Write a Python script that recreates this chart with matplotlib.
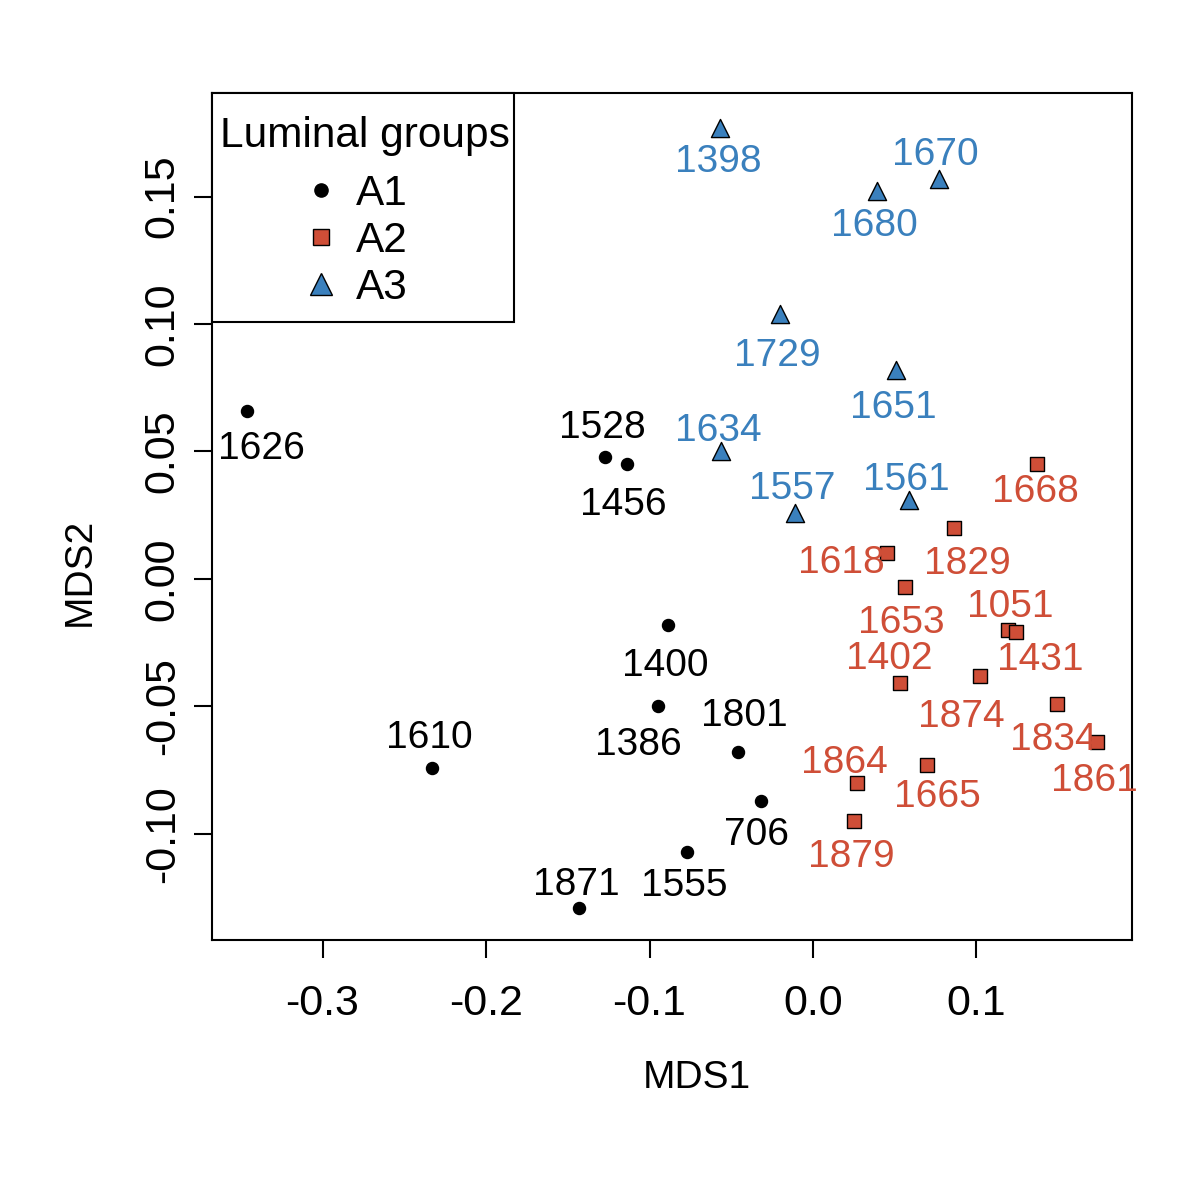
import numpy as np
import matplotlib.pyplot as plt
from matplotlib.lines import Line2D
from matplotlib.patches import Rectangle

plt.rcParams['font.family'] = ['Liberation Sans', 'DejaVu Sans']
plt.rcParams['axes.unicode_minus'] = False

# group A1 (black circles)
a1_ids = ["1626", "1528", "1456", "1400", "1386", "1801", "1610", "706", "1555", "1871"]
a1_x = [-0.346, -0.127, -0.114, -0.089, -0.095, -0.046, -0.233, -0.032, -0.077, -0.143]
a1_y = [0.066, 0.048, 0.045, -0.018, -0.050, -0.068, -0.074, -0.087, -0.107, -0.129]

# group A2 (red squares)
a2_ids = ["1668", "1829", "1618", "1653", "1051", "1431", "1402", "1874",
          "1834", "1861", "1665", "1864", "1879"]
a2_x = [0.137, 0.086, 0.045, 0.056, 0.119, 0.124, 0.053, 0.102, 0.149, 0.174, 0.070, 0.027, 0.025]
a2_y = [0.045, 0.020, 0.010, -0.003, -0.020, -0.021, -0.041, -0.038, -0.049, -0.064, -0.073, -0.080, -0.095]

# group A3 (blue triangles)
a3_ids = ["1398", "1670", "1680", "1729", "1651", "1634", "1557", "1561"]
a3_x = [-0.057, 0.077, 0.039, -0.020, 0.051, -0.056, -0.011, 0.059]
a3_y = [0.177, 0.157, 0.152, 0.104, 0.082, 0.050, 0.026, 0.031]

# label offsets in pixels (dx right, dy down)
a1_off = [(14, 38), (-3, -29), (-3, 41), (-2, 41), (-19, 39), (7, -36), (-3, -30), (-4, 34), (-3, 34), (-3, -23)]
a2_off = [(-2, 28), (14, 36), (-45, 10), (-3, 36), (3, -23), (25, 28), (-10, -24), (-18, 41),
          (-3, 36), (-3, 39), (10, 32), (-13, -20), (-3, 36)]
a3_off = [(-2, 34), (-4, -24), (-2, 35), (-3, 42), (-3, 38), (-3, -20), (-3, -24), (-3, -20)]

red = '#CF4E37'
blue = '#3A80BD'

fig = plt.figure(figsize=(12, 12), dpi=100)
ax = fig.add_axes([0.1767, 0.2167, 0.7666, 0.7058])

ax.scatter(a1_x, a1_y, s=75, marker='o', color='black', zorder=3)
ax.scatter(a2_x, a2_y, s=95, marker='s', color=red, edgecolor='black', linewidth=1.0, zorder=3)
ax.scatter(a3_x, a3_y, s=170, marker='^', color=blue, edgecolor='black', linewidth=1.0, zorder=3)

fs = 28
for ids, xs, ys, offs, c in [(a1_ids, a1_x, a1_y, a1_off, 'black'),
                             (a2_ids, a2_x, a2_y, a2_off, red),
                             (a3_ids, a3_x, a3_y, a3_off, blue)]:
    for t, x, y, (dx, dy) in zip(ids, xs, ys, offs):
        ax.annotate(t, (x, y), xytext=(dx, -dy), textcoords='offset pixels',
                    ha='center', va='center', fontsize=fs, color=c)

ax.set_xlim(-0.3676, 0.1951)
ax.set_ylim(-0.1416, 0.1906)
ax.set_xticks([-0.3, -0.2, -0.1, 0.0, 0.1])
ax.set_yticks([-0.10, -0.05, 0.00, 0.05, 0.10, 0.15])
ax.set_yticklabels(['-0.10', '-0.05', '0.00', '0.05', '0.10', '0.15'], rotation=90, va='center')
ax.tick_params(length=13, width=1.5, labelsize=31)
ax.tick_params(axis='x', pad=19)
ax.tick_params(axis='y', pad=8)
for s in ax.spines.values():
    s.set_linewidth(1.5)

ax.set_xlabel('MDS1', fontsize=fs)
ax.set_ylabel('MDS2', fontsize=fs)
ax.xaxis.set_label_coords((697 - 212) / 920, -(1078 - 940) / 847)
ax.yaxis.set_label_coords(-(212 - 80) / 920, (940 - 572) / 847)
ax.xaxis.label.set_va('center')
ax.yaxis.label.set_va('center')

# legend box drawn by hand
ax.add_patch(Rectangle((0, (940 - 322) / 847), (514 - 212) / 920, (322 - 93) / 847,
                       transform=ax.transAxes, facecolor='white', edgecolor='black',
                       linewidth=1.5, zorder=4, clip_on=False))
handles = [Line2D([], [], marker='o', color='black', linestyle='', markersize=9.5),
           Line2D([], [], marker='s', color=red, markeredgecolor='black', linestyle='', markersize=11),
           Line2D([], [], marker='^', color=blue, markeredgecolor='black', linestyle='', markersize=16)]
leg = ax.legend(handles, ['A1', 'A2', 'A3'], title='Luminal groups', loc='upper left',
                bbox_to_anchor=((220 - 212) / 920, (940 - 116) / 847),
                fontsize=30.5, title_fontsize=30.5, frameon=False,
                borderaxespad=0, borderpad=0, alignment='left', handletextpad=-1.55,
                labelspacing=0.165, handlelength=4.76)
leg._legend_box.sep = 13
leg.set_zorder(5)

fig.savefig('out.png', dpi=100)
